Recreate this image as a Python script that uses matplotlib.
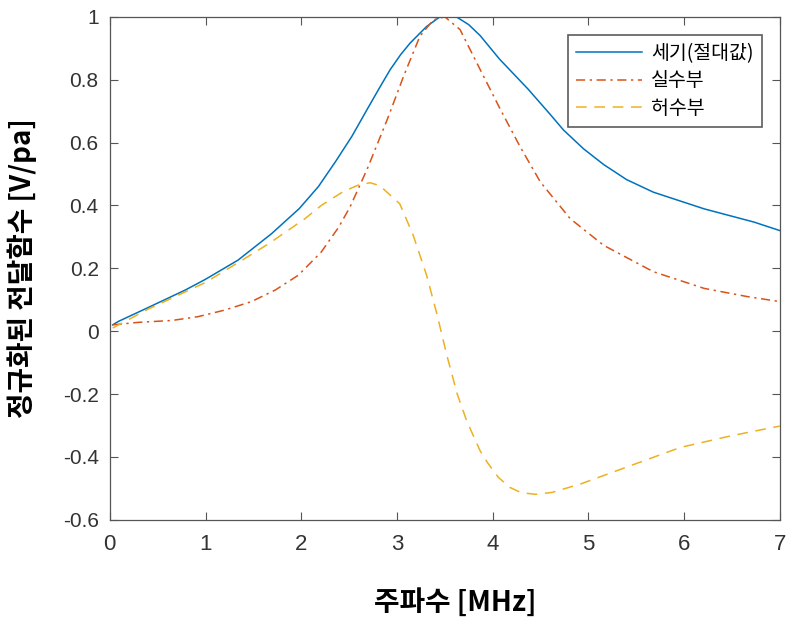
import matplotlib
matplotlib.use("Agg")
import matplotlib.pyplot as plt

plt.rcParams['font.family'] = ['Noto Sans CJK KR', 'DejaVu Sans']

# Data
mag_x = [0.03, 0.09, 0.4, 0.79, 1.0, 1.34, 1.69, 1.98, 2.18, 2.36, 2.53, 2.69, 2.82, 2.93, 3.04, 3.14, 3.31, 3.45, 3.55, 3.63, 3.75, 3.87, 4.07, 4.37, 4.60, 4.74, 4.95, 5.16, 5.40, 5.68, 6.21, 6.73, 7.0]
mag_y = [0.02, 0.031, 0.075, 0.131, 0.165, 0.226, 0.31, 0.39, 0.46, 0.54, 0.62, 0.706, 0.775, 0.832, 0.88, 0.917, 0.969, 1.0, 1.003, 0.998, 0.975, 0.94, 0.866, 0.77, 0.69, 0.64, 0.58, 0.53, 0.482, 0.442, 0.389, 0.347, 0.32]

re_x = [0.03, 0.30, 0.65, 0.92, 1.20, 1.48, 1.73, 1.97, 2.21, 2.39, 2.51, 2.69, 2.90, 3.07, 3.24, 3.38, 3.50, 3.66, 3.87, 4.08, 4.29, 4.50, 4.81, 5.16, 5.68, 6.21, 6.66, 7.0]
re_y = [0.02, 0.028, 0.034, 0.046, 0.067, 0.094, 0.131, 0.178, 0.252, 0.33, 0.395, 0.516, 0.674, 0.811, 0.938, 0.99, 1.0, 0.959, 0.832, 0.706, 0.585, 0.474, 0.358, 0.273, 0.189, 0.136, 0.11, 0.094]

im_x = [0.03, 0.4, 0.79, 1.0, 1.41, 1.66, 2.04, 2.21, 2.44, 2.60, 2.72, 2.82, 3.03, 3.17, 3.31, 3.42, 3.52, 3.63, 3.73, 3.87, 3.95, 4.06, 4.18, 4.30, 4.45, 4.62, 4.92, 5.44, 5.96, 6.49, 7.0]
im_y = [0.01, 0.07, 0.125, 0.155, 0.231, 0.278, 0.358, 0.40, 0.444, 0.465, 0.472, 0.463, 0.405, 0.305, 0.178, 0.052, -0.075, -0.20, -0.286, -0.381, -0.42, -0.465, -0.497, -0.514, -0.519, -0.513, -0.486, -0.428, -0.37, -0.333, -0.302]

labels = ['세기(절대값)', '실수부', '허수부']
x_ticks = [0, 1, 2, 3, 4, 5, 6, 7]
y_ticks = [-0.6, -0.4, -0.2, 0, 0.2, 0.4, 0.6, 0.8, 1]
y_tick_labels = ['-0.6', '-0.4', '-0.2', '0', '0.2', '0.4', '0.6', '0.8', '1']

fig = plt.figure(figsize=(7.9, 6.21), dpi=100)
ax = fig.add_axes([0.139, 0.163, 0.848, 0.810])

ax.plot(mag_x, mag_y, color='#0072BD', lw=1.1, label=labels[0])
ax.plot(re_x, re_y, color='#D95319', lw=1.1, ls=(0, (6, 3, 1.5, 3)), label=labels[1])
ax.plot(im_x, im_y, color='#EDB120', lw=1.1, ls=(0, (7, 5)), label=labels[2])

ax.set_xlim(0, 7)
ax.set_ylim(-0.6, 1)
ax.set_xticks(x_ticks)
ax.set_yticks(y_ticks)

tick_family = ['Liberation Sans Narrow', 'Liberation Sans', 'DejaVu Sans']
ax.set_xticklabels([str(t) for t in x_ticks], family=tick_family, fontsize=16, color='#333333')
ax.set_yticklabels(y_tick_labels, family=tick_family, fontsize=15, color='#333333')
ax.tick_params(direction='in', top=True, right=True, length=6, width=0.8, colors='#555555', labelcolor='#333333')
ax.tick_params(axis='x', pad=10)
ax.tick_params(axis='y', pad=8)
for s in ax.spines.values():
    s.set_color('#555555')
    s.set_linewidth(0.9)

ax.set_xlabel('주파수 [MHz]', fontsize=20, fontweight='bold')
ax.set_ylabel('정규화된 전달함수 [V/pa]', fontsize=20, fontweight='bold')
ax.xaxis.set_label_coords(0.515, -0.135)
ax.yaxis.set_label_coords(-0.109, 0.5)

leg = ax.legend(loc='upper right', bbox_to_anchor=(0.973, 0.964), fontsize=14, frameon=True,
                fancybox=False, edgecolor='#333333', handlelength=3.4, handletextpad=0.5,
                borderpad=0.4, labelspacing=0.35, borderaxespad=0)
leg.get_frame().set_linewidth(1.2)

fig.savefig('out.png', dpi=100)
